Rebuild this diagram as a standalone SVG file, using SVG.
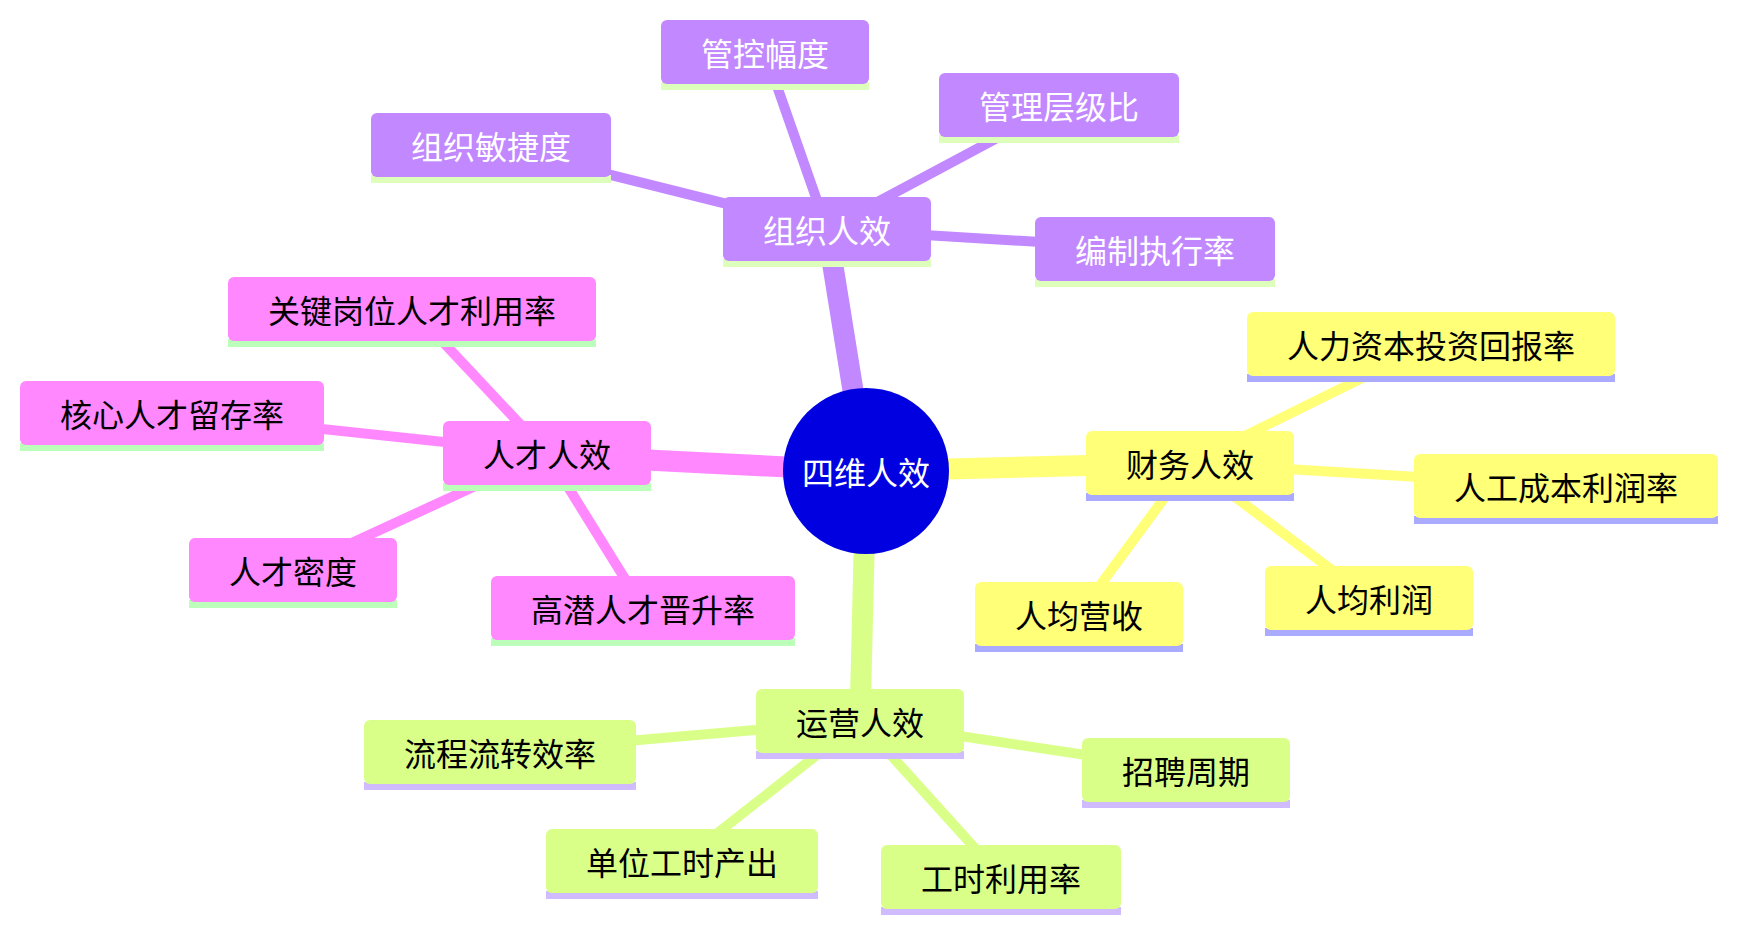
<svg xmlns="http://www.w3.org/2000/svg" width="1737" height="932" viewBox="0 0 1737 932">
<style>
text{font-family:"Noto Sans CJK SC","Noto Sans",sans-serif;font-size:32px;text-anchor:middle;dominant-baseline:central}
.s0 rect.b{fill:#c288ff}.s0 rect.u{fill:#ddffbb}.s0 text{fill:#ffffff}
.s1 rect.b{fill:#ff88ff}.s1 rect.u{fill:#bbffbb}.s1 text{fill:#000000}
.s2 rect.b{fill:#ffff78}.s2 rect.u{fill:#aaaaff}.s2 text{fill:#000000}
.s3 rect.b{fill:#daff88}.s3 rect.u{fill:#d1bbff}.s3 text{fill:#000000}
.e{fill:none;stroke-linecap:butt}
.t{stroke-width:21}.l{stroke-width:10}
.c0{stroke:#c288ff}.c1{stroke:#ff88ff}.c2{stroke:#ffff78}.c3{stroke:#daff88}
</style>
<g id="connectors">
<line class="e t c0" x1="866" y1="471" x2="827" y2="229"/>
<line class="e t c1" x1="866" y1="471" x2="547" y2="455"/>
<line class="e t c2" x1="866" y1="471" x2="1190" y2="463"/>
<line class="e t c3" x1="866" y1="471" x2="860" y2="721"/>
<line class="e l c0" x1="827" y1="229" x2="765" y2="52"/>
<line class="e l c0" x1="827" y1="229" x2="1059" y2="105"/>
<line class="e l c0" x1="827" y1="229" x2="491" y2="145"/>
<line class="e l c0" x1="827" y1="229" x2="1155" y2="249"/>
<line class="e l c1" x1="547" y1="453" x2="412" y2="309"/>
<line class="e l c1" x1="547" y1="453" x2="172" y2="413"/>
<line class="e l c1" x1="547" y1="453" x2="293" y2="570"/>
<line class="e l c1" x1="547" y1="453" x2="643" y2="608"/>
<line class="e l c2" x1="1190" y1="463" x2="1431" y2="344"/>
<line class="e l c2" x1="1190" y1="463" x2="1566" y2="486"/>
<line class="e l c2" x1="1190" y1="463" x2="1079" y2="614"/>
<line class="e l c2" x1="1190" y1="463" x2="1369" y2="598"/>
<line class="e l c3" x1="860" y1="721" x2="500" y2="752"/>
<line class="e l c3" x1="860" y1="721" x2="1186" y2="770"/>
<line class="e l c3" x1="860" y1="721" x2="682" y2="861"/>
<line class="e l c3" x1="860" y1="721" x2="1001" y2="877"/>
</g>
<g id="root">
<circle cx="866" cy="471" r="83" fill="#0000e0"/>
<text x="866" y="471" fill="#ffffff">四维人效</text>
</g>
<g id="n-org" class="s0"><rect class="u" x="723" y="259" width="208" height="8"/><rect class="b" x="723" y="197" width="208" height="64" rx="6"/><text x="827" y="229">组织人效</text></g>
<g id="n-org1" class="s0"><rect class="u" x="661" y="82" width="208" height="8"/><rect class="b" x="661" y="20" width="208" height="64" rx="6"/><text x="765" y="52">管控幅度</text></g>
<g id="n-org2" class="s0"><rect class="u" x="939" y="135" width="240" height="8"/><rect class="b" x="939" y="73" width="240" height="64" rx="6"/><text x="1059" y="105">管理层级比</text></g>
<g id="n-org3" class="s0"><rect class="u" x="371" y="175" width="240" height="8"/><rect class="b" x="371" y="113" width="240" height="64" rx="6"/><text x="491" y="145">组织敏捷度</text></g>
<g id="n-org4" class="s0"><rect class="u" x="1035" y="279" width="240" height="8"/><rect class="b" x="1035" y="217" width="240" height="64" rx="6"/><text x="1155" y="249">编制执行率</text></g>
<g id="n-tal" class="s1"><rect class="u" x="443" y="483" width="208" height="8"/><rect class="b" x="443" y="421" width="208" height="64" rx="6"/><text x="547" y="453">人才人效</text></g>
<g id="n-tal1" class="s1"><rect class="u" x="228" y="339" width="368" height="8"/><rect class="b" x="228" y="277" width="368" height="64" rx="6"/><text x="412" y="309">关键岗位人才利用率</text></g>
<g id="n-tal2" class="s1"><rect class="u" x="20" y="443" width="304" height="8"/><rect class="b" x="20" y="381" width="304" height="64" rx="6"/><text x="172" y="413">核心人才留存率</text></g>
<g id="n-tal3" class="s1"><rect class="u" x="189" y="600" width="208" height="8"/><rect class="b" x="189" y="538" width="208" height="64" rx="6"/><text x="293" y="570">人才密度</text></g>
<g id="n-tal4" class="s1"><rect class="u" x="491" y="638" width="304" height="8"/><rect class="b" x="491" y="576" width="304" height="64" rx="6"/><text x="643" y="608">高潜人才晋升率</text></g>
<g id="n-fin" class="s2"><rect class="u" x="1086" y="493" width="208" height="8"/><rect class="b" x="1086" y="431" width="208" height="64" rx="6"/><text x="1190" y="463">财务人效</text></g>
<g id="n-fin1" class="s2"><rect class="u" x="1247" y="374" width="368" height="8"/><rect class="b" x="1247" y="312" width="368" height="64" rx="6"/><text x="1431" y="344">人力资本投资回报率</text></g>
<g id="n-fin2" class="s2"><rect class="u" x="1414" y="516" width="304" height="8"/><rect class="b" x="1414" y="454" width="304" height="64" rx="6"/><text x="1566" y="486">人工成本利润率</text></g>
<g id="n-fin3" class="s2"><rect class="u" x="975" y="644" width="208" height="8"/><rect class="b" x="975" y="582" width="208" height="64" rx="6"/><text x="1079" y="614">人均营收</text></g>
<g id="n-fin4" class="s2"><rect class="u" x="1265" y="628" width="208" height="8"/><rect class="b" x="1265" y="566" width="208" height="64" rx="6"/><text x="1369" y="598">人均利润</text></g>
<g id="n-ops" class="s3"><rect class="u" x="756" y="751" width="208" height="8"/><rect class="b" x="756" y="689" width="208" height="64" rx="6"/><text x="860" y="721">运营人效</text></g>
<g id="n-ops1" class="s3"><rect class="u" x="364" y="782" width="272" height="8"/><rect class="b" x="364" y="720" width="272" height="64" rx="6"/><text x="500" y="752">流程流转效率</text></g>
<g id="n-ops2" class="s3"><rect class="u" x="1082" y="800" width="208" height="8"/><rect class="b" x="1082" y="738" width="208" height="64" rx="6"/><text x="1186" y="770">招聘周期</text></g>
<g id="n-ops3" class="s3"><rect class="u" x="546" y="891" width="272" height="8"/><rect class="b" x="546" y="829" width="272" height="64" rx="6"/><text x="682" y="861">单位工时产出</text></g>
<g id="n-ops4" class="s3"><rect class="u" x="881" y="907" width="240" height="8"/><rect class="b" x="881" y="845" width="240" height="64" rx="6"/><text x="1001" y="877">工时利用率</text></g>
</svg>
